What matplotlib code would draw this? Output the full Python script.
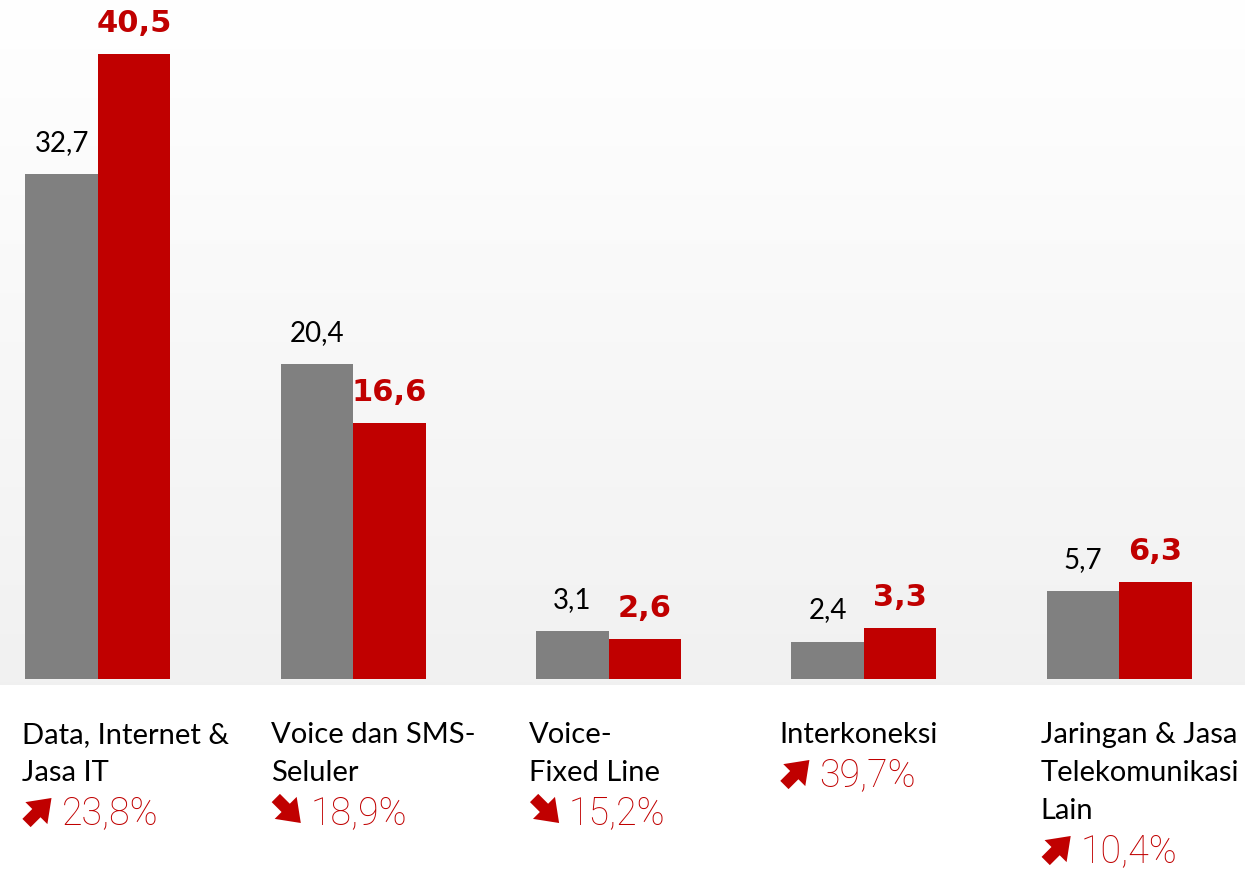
import matplotlib

matplotlib.use("Agg")
import matplotlib.pyplot as plt  # noqa: E402
import numpy as np  # noqa: E402

categories = [
    "Data, Internet &\nJasa IT",
    "Voice dan SMS-\nSeluler",
    "Voice-\nFixed Line",
    "Interkoneksi",
    "Jaringan & Jasa\nTelekomunikasi\nLain",
]
prev_values = [32.7, 20.4, 3.1, 2.4, 5.7]
curr_values = [40.5, 16.6, 2.6, 3.3, 6.3]
growth_labels = ["23,8%", "18,9%", "15,2%", "39,7%", "10,4%"]
growth_up = [True, False, False, True, True]

GRAY = "#808080"
RED = "#c00000"
W, H = 1245, 870

fig = plt.figure(figsize=(W / 100, H / 100), dpi=100)
ax = fig.add_axes([0, 0, 1, 1])

# pixel layout: group centre of first pair at x=98, spacing 255.3 px, baseline y=680
px_per_x = 255.3
px_per_y = 15.43
x0_px, base_px = 98, 680
ax.set_xlim(-x0_px / px_per_x, (W - x0_px) / px_per_x)
ax.set_ylim(-(H - base_px) / px_per_y, base_px / px_per_y)
ax.axis("off")

# background gradient: white at top -> light grey near baseline
grad = np.linspace(1.0, 0.0, 256).reshape(-1, 1)
top_col = np.array([1.0, 1.0, 1.0])
bot_col = np.array([0.945, 0.945, 0.945])
img = top_col * grad[..., None] + bot_col * (1 - grad[..., None])
img = img.reshape(256, 1, 3)
ax.imshow(img, extent=[ax.get_xlim()[0], ax.get_xlim()[1], -6 / px_per_y, base_px / px_per_y],
          aspect="auto", zorder=0, origin="upper")

x = np.arange(len(categories))
bw = 72.5 / px_per_x
ax.bar(x - bw / 2, prev_values, width=bw, color=GRAY, zorder=2)
ax.bar(x + bw / 2, curr_values, width=bw, color=RED, zorder=2)

for i in range(len(categories)):
    ax.annotate(f"{prev_values[i]:.1f}".replace(".", ","), (x[i] - bw / 2, prev_values[i]),
                xytext=(0, 14), textcoords="offset points", ha="center", va="bottom",
                fontsize=20, family="Lato", color="black", zorder=3)
    ax.annotate(f"{curr_values[i]:.1f}".replace(".", ","), (x[i] + bw / 2, curr_values[i]),
                xytext=(0, 12), textcoords="offset points", ha="center", va="bottom",
                fontsize=22, family="DejaVu Sans", fontweight="heavy", color=RED, zorder=3)


def fy(py):
    return 1 - py / H


offsets = [-4, -10, -7, -12, -6]
for i, cat in enumerate(categories):
    left_px = x0_px + i * px_per_x - 72.5 + offsets[i]
    lines = cat.split("\n")
    for k, line in enumerate(lines):
        fig.text(left_px / W, fy(743 + 38 * k), line, ha="left", va="baseline",
                 fontsize=21, family="Lato", color="black")
    base = 743 + 38 * (len(lines) - 1) + 43
    # bold diagonal arrow icon
    ax_l, ax_r = left_px + 5, left_px + 30
    if growth_up[i]:
        start, end = (ax_l, base), (ax_r, base - 25)
    else:
        start, end = (ax_l, base - 25), (ax_r, base)
    fig.add_artist(matplotlib.patches.FancyArrowPatch(
        (start[0] / W, fy(start[1])), (end[0] / W, fy(end[1])),
        transform=fig.transFigure, arrowstyle="simple,head_width=1.6,head_length=1.1,tail_width=0.6",
        mutation_scale=14, color=RED, lw=0, shrinkA=0, shrinkB=0))
    fig.text((left_px + 40) / W, fy(base), growth_labels[i], ha="left", va="baseline",
             fontsize=27, family="Roboto", fontweight="light", color=RED)

fig.savefig("out.png", dpi=100)
